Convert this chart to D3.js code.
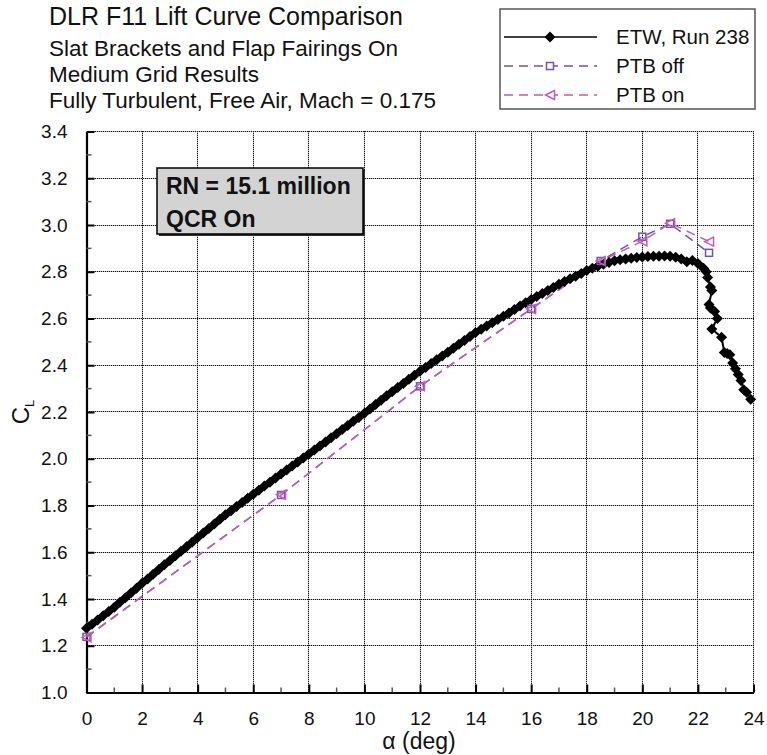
<!DOCTYPE html>
<html>
<head>
<meta charset="utf-8">
<script src="https://cdn.jsdelivr.net/npm/d3@7"></script>
<style>
  html, body { margin: 0; padding: 0; background: #fff; }
  svg { display: block; font-family: "Liberation Sans", Arial, Helvetica, sans-serif; }
</style>
</head>
<body>
<svg id="chart" width="767" height="755"></svg>
<script>
// ---------------- DATA ----------------
const titleText = "DLR F11 Lift Curve Comparison";
const subtitleLines = [
  "Slat Brackets and Flap Fairings On",
  "Medium Grid Results",
  "Fully Turbulent, Free Air, Mach = 0.175"
];
const annotationLines = ["RN = 15.1 million", "QCR On"];
const seriesNames = ["ETW, Run 238", "PTB off", "PTB on"];

const xTicks = [0, 2, 4, 6, 8, 10, 12, 14, 16, 18, 20, 22, 24];
const yTicks = [1.0, 1.2, 1.4, 1.6, 1.8, 2.0, 2.2, 2.4, 2.6, 2.8, 3.0, 3.2, 3.4];

// ETW experiment, Run 238 (alpha, CL)
const etwAlpha = [
  0.0, 0.2, 0.4, 0.6, 0.8, 1.0, 1.2, 1.4, 1.6, 1.8,
  2.0, 2.2, 2.4, 2.6, 2.8, 3.0, 3.2, 3.4, 3.6, 3.8,
  4.0, 4.2, 4.4, 4.6, 4.8, 5.0, 5.2, 5.4, 5.6, 5.8,
  6.0, 6.2, 6.4, 6.6, 6.8, 7.0, 7.2, 7.4, 7.6, 7.8,
  8.0, 8.2, 8.4, 8.6, 8.8, 9.0, 9.2, 9.4, 9.6, 9.8,
  10.0, 10.2, 10.4, 10.6, 10.8, 11.0, 11.2, 11.4, 11.6, 11.8,
  12.0, 12.2, 12.4, 12.6, 12.8, 13.0, 13.2, 13.4, 13.6, 13.8,
  14.0, 14.2, 14.4, 14.6, 14.8, 15.0, 15.2, 15.4, 15.6, 15.8,
  16.0, 16.2, 16.4, 16.6, 16.8, 17.0, 17.2, 17.4, 17.6, 17.8,
  18.0, 18.2, 18.4, 18.6, 18.8, 19.0, 19.2, 19.4, 19.6, 19.8,
  20.0, 20.2, 20.4, 20.6, 20.8, 21.0, 21.2, 21.4, 21.6, 21.8,
  22.0, 22.2, 22.3, 22.35, 22.45, 22.5, 22.4, 22.45, 22.6, 22.7,
  22.5, 22.85, 22.95, 23.05, 23.15, 23.25, 23.35, 23.45, 23.55, 23.65,
  23.75, 23.9
];
const etwCL = [
  1.275, 1.292, 1.310, 1.328, 1.347, 1.365, 1.386, 1.405, 1.426, 1.446,
  1.467, 1.486, 1.506, 1.526, 1.546, 1.565, 1.585, 1.604, 1.624, 1.643,
  1.663, 1.682, 1.702, 1.721, 1.741, 1.760, 1.778, 1.796, 1.813, 1.831,
  1.848, 1.865, 1.883, 1.900, 1.918, 1.935, 1.952, 1.969, 1.986, 2.003,
  2.020, 2.037, 2.055, 2.072, 2.090, 2.107, 2.125, 2.142, 2.160, 2.177,
  2.195, 2.213, 2.232, 2.250, 2.269, 2.287, 2.305, 2.322, 2.340, 2.357,
  2.374, 2.390, 2.407, 2.423, 2.440, 2.456, 2.473, 2.490, 2.506, 2.523,
  2.540, 2.554, 2.568, 2.582, 2.596, 2.610, 2.624, 2.638, 2.653, 2.667,
  2.681, 2.694, 2.707, 2.720, 2.733, 2.746, 2.758, 2.770, 2.781, 2.793,
  2.805, 2.815, 2.824, 2.832, 2.840, 2.847, 2.851, 2.855, 2.858, 2.861,
  2.863, 2.865, 2.866, 2.866, 2.867, 2.866, 2.862, 2.855, 2.843, 2.848,
  2.835, 2.815, 2.800, 2.775, 2.735, 2.720, 2.660, 2.645, 2.630, 2.600,
  2.555, 2.520, 2.455, 2.450, 2.445, 2.410, 2.385, 2.360, 2.335, 2.295,
  2.285, 2.255
];

// CFD, PTB off
const ptbOffAlpha = [0, 7, 12, 16, 18.5, 20, 21, 22.4];
const ptbOffCL    = [1.238, 1.845, 2.31, 2.641, 2.846, 2.95, 3.005, 2.881];
// CFD, PTB on
const ptbOnAlpha  = [0, 7, 12, 16, 18.5, 20, 21, 22.4];
const ptbOnCL     = [1.236, 1.846, 2.31, 2.641, 2.846, 2.93, 3.008, 2.929];

// ---------------- LAYOUT ----------------
const svg = d3.select("#chart");
const plot = { left: 86.5, right: 753.5, top: 131.5, bottom: 692.5 };
const x = d3.scaleLinear().domain([0, 24]).range([plot.left, plot.right]);
const y = d3.scaleLinear().domain([1.0, 3.4]).range([plot.bottom, plot.top]);
const snap = v => Math.floor(v) + 0.5;

const colEtw = "#000000";
const colOff = "#6f52b5";
const colOn = "#c35bb6";
const fontFam = '"Liberation Sans", Arial, Helvetica, sans-serif';

// dotted grid: light grey base line with dark dots on top (pixel-snapped)
const grid = svg.append("g").attr("shape-rendering", "crispEdges");
const gxVals = xTicks.filter(d => d > 0);
const gyVals = yTicks.filter(d => d > 1.0);
[["#b4b4b4", null], ["#111", "1,1"]].forEach(([col, dash]) => {
  grid.append("g").selectAll("line").data(gxVals).join("line")
    .attr("x1", d => snap(x(d))).attr("x2", d => snap(x(d)))
    .attr("y1", 692).attr("y2", 131)
    .attr("stroke", col).attr("stroke-width", 1).attr("stroke-dasharray", dash);
  grid.append("g").selectAll("line").data(gyVals).join("line")
    .attr("y1", d => snap(y(d))).attr("y2", d => snap(y(d)))
    .attr("x1", 87).attr("x2", 754)
    .attr("stroke", col).attr("stroke-width", 1).attr("stroke-dasharray", dash);
});

// axes with inward ticks
const xAxis = d3.axisBottom(x).tickValues(xTicks).tickFormat(d3.format("d"))
  .tickSizeInner(-8).tickSizeOuter(0).tickPadding(15);
const yAxis = d3.axisLeft(y).tickValues(yTicks).tickFormat(d3.format(".1f"))
  .tickSizeInner(-8).tickSizeOuter(0).tickPadding(19);

const gx = svg.append("g").attr("transform", `translate(0,${plot.bottom})`).call(xAxis);
const gy = svg.append("g").attr("transform", `translate(${plot.left},0)`).call(yAxis);
[gx, gy].forEach(g => {
  g.select(".domain").attr("stroke", "#000").attr("stroke-width", 2.2);
  g.selectAll(".tick line").attr("stroke", "#000").attr("stroke-width", 2);
  g.selectAll(".tick text").attr("fill", "#111").style("font-family", fontFam).style("font-size", "19px");
});
gx.selectAll(".tick text").attr("dy", "0.9em");

// minor ticks
const xMinor = [1, 3, 5, 7, 9, 11, 13, 15, 17, 19, 21, 23];
const yMinor = [1.1, 1.3, 1.5, 1.7, 1.9, 2.1, 2.3, 2.5, 2.7, 2.9, 3.1, 3.3];
svg.append("g").selectAll("line").data(xMinor).join("line")
  .attr("x1", d => x(d)).attr("x2", d => x(d))
  .attr("y1", plot.bottom).attr("y2", plot.bottom - 5)
  .attr("stroke", "#555").attr("stroke-width", 1.5);
svg.append("g").selectAll("line").data(yMinor).join("line")
  .attr("y1", d => y(d)).attr("y2", d => y(d))
  .attr("x1", plot.left).attr("x2", plot.left + 5)
  .attr("stroke", "#555").attr("stroke-width", 1.5);

// axis titles
svg.append("text").attr("x", (plot.left + plot.right) / 2 - 1).attr("y", 749)
  .attr("text-anchor", "middle").style("font-family", fontFam).style("font-size", "23px")
  .attr("fill", "#111").text("\u03b1 (deg)");
const yl = svg.append("text").attr("transform", "translate(29,412) rotate(-90)")
  .attr("text-anchor", "middle").style("font-family", fontFam).attr("fill", "#111");
yl.append("tspan").style("font-size", "24px").text("C");
yl.append("tspan").style("font-size", "13px").attr("dy", 5).text("L");

// series
const line = d3.line().x(d => x(d[0])).y(d => y(d[1]));
const etw = etwAlpha.map((a, i) => [a, etwCL[i]]);
const off = ptbOffAlpha.map((a, i) => [a, ptbOffCL[i]]);
const on = ptbOnAlpha.map((a, i) => [a, ptbOnCL[i]]);

const gPlot = svg.append("g");
gPlot.append("path").datum(off).attr("d", line).attr("fill", "none")
  .attr("stroke", colOff).attr("stroke-width", 1.5).attr("stroke-dasharray", "9,6");
gPlot.append("path").datum(on).attr("d", line).attr("fill", "none")
  .attr("stroke", colOn).attr("stroke-width", 1.5).attr("stroke-dasharray", "9,6");

gPlot.append("path").datum(etw).attr("d", line).attr("fill", "none")
  .attr("stroke", colEtw).attr("stroke-width", 2).attr("stroke-linejoin", "round");
const dia = r => `M0,${-r}L${r},0L0,${r}L${-r},0Z`;
gPlot.selectAll("path.etw").data(etw).join("path").attr("class", "etw")
  .attr("transform", d => `translate(${x(d[0])},${y(d[1])})`)
  .attr("d", dia(5.5)).attr("fill", colEtw);

function sq(g, cx, cy, col, fill) {
  g.append("rect").attr("x", cx - 3.5).attr("y", cy - 3.5).attr("width", 7).attr("height", 7)
    .attr("fill", fill).attr("stroke", col).attr("stroke-width", 1.5);
}
function tri(g, cx, cy, col, fill) {
  const s = 4.5;
  g.append("path").attr("d", `M${cx - s},${cy} L${cx + s},${cy - s} L${cx + s},${cy + s} Z`)
    .attr("fill", fill).attr("stroke", col).attr("stroke-width", 1.5);
}
off.forEach(d => sq(gPlot, x(d[0]), y(d[1]), colOff, "none"));
on.forEach(d => tri(gPlot, x(d[0]), y(d[1]), colOn, "none"));

// annotation box
const ann = svg.append("g");
ann.append("rect").attr("x", 159).attr("y", 170).attr("width", 206).attr("height", 66).attr("fill", "#333");
ann.append("rect").attr("x", 157).attr("y", 168).attr("width", 206).attr("height", 66)
  .attr("fill", "#d3d3d3").attr("stroke", "#000").attr("stroke-width", 1.5);
ann.selectAll("text").data(annotationLines).join("text")
  .attr("x", 166).attr("y", (d, i) => 194 + i * 33)
  .style("font-family", fontFam).style("font-size", "23px").style("font-weight", "bold")
  .attr("fill", "#111").text(d => d);

// titles
svg.append("text").attr("x", 49).attr("y", 25).style("font-family", fontFam)
  .style("font-size", "25px").attr("fill", "#111").text(titleText);
svg.append("g").selectAll("text").data(subtitleLines).join("text")
  .attr("x", 49).attr("y", (d, i) => 56 + i * 26)
  .style("font-family", fontFam).style("font-size", "22.5px").attr("fill", "#111").text(d => d);

// legend
const lg = svg.append("g");
lg.append("rect").attr("x", 500).attr("y", 9).attr("width", 255).attr("height", 100)
  .attr("fill", "#fff").attr("stroke", "#555").attr("stroke-width", 1.5);
const rowsY = [37, 66, 95];
lg.append("line").attr("x1", 504).attr("x2", 597).attr("y1", rowsY[0]).attr("y2", rowsY[0])
  .attr("stroke", colEtw).attr("stroke-width", 1.5);
lg.append("path").attr("transform", `translate(550,${rowsY[0]})`)
  .attr("d", dia(5.5)).attr("fill", colEtw);
lg.append("line").attr("x1", 504).attr("x2", 597).attr("y1", rowsY[1]).attr("y2", rowsY[1])
  .attr("stroke", colOff).attr("stroke-width", 1.5).attr("stroke-dasharray", "9,6");
sq(lg, 550, rowsY[1], colOff, "#fff");
lg.append("line").attr("x1", 504).attr("x2", 597).attr("y1", rowsY[2]).attr("y2", rowsY[2])
  .attr("stroke", colOn).attr("stroke-width", 1.5).attr("stroke-dasharray", "9,6");
tri(lg, 550, rowsY[2], colOn, "#fff");
lg.selectAll("text").data(seriesNames).join("text")
  .attr("x", 616).attr("y", (d, i) => rowsY[i] + 7)
  .style("font-family", fontFam).style("font-size", "20.5px").attr("fill", "#111").text(d => d);
</script>
</body>
</html>
